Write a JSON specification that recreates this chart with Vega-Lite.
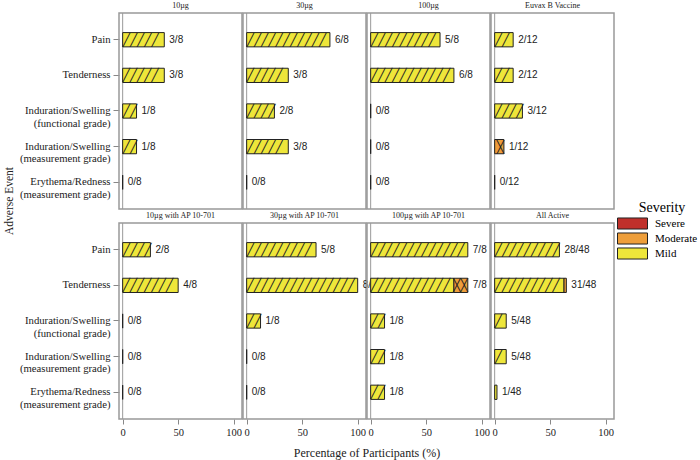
{
  "$schema": "https://vega.github.io/schema/vega-lite/v6.json",
  "padding": {"left": 4, "top": 1, "right": 3, "bottom": 2},
  "datasets": {
    "panels": [
      {"p": "10µg", "r": 1}, {"p": "30µg", "r": 1}, {"p": "100µg", "r": 1}, {"p": "Euvax B Vaccine", "r": 1},
      {"p": "10µg with AP 10-701", "r": 2}, {"p": "30µg with AP 10-701", "r": 2}, {"p": "100µg with AP 10-701", "r": 2}, {"p": "All Active", "r": 2}
    ],
    "bars": [
      {"p": "10µg", "e": "Pain", "s": "Mild", "v": 37.5},
      {"p": "10µg", "e": "Tenderness", "s": "Mild", "v": 37.5},
      {"p": "10µg", "e": "Induration/Swelling|(functional grade)", "s": "Mild", "v": 12.5},
      {"p": "10µg", "e": "Induration/Swelling|(measurement grade)", "s": "Mild", "v": 12.5},
      {"p": "10µg", "e": "Erythema/Redness|(measurement grade)", "s": "Mild", "v": 0},
      {"p": "30µg", "e": "Pain", "s": "Mild", "v": 75},
      {"p": "30µg", "e": "Tenderness", "s": "Mild", "v": 37.5},
      {"p": "30µg", "e": "Induration/Swelling|(functional grade)", "s": "Mild", "v": 25},
      {"p": "30µg", "e": "Induration/Swelling|(measurement grade)", "s": "Mild", "v": 37.5},
      {"p": "30µg", "e": "Erythema/Redness|(measurement grade)", "s": "Mild", "v": 0},
      {"p": "100µg", "e": "Pain", "s": "Mild", "v": 62.5},
      {"p": "100µg", "e": "Tenderness", "s": "Mild", "v": 75},
      {"p": "100µg", "e": "Induration/Swelling|(functional grade)", "s": "Mild", "v": 0},
      {"p": "100µg", "e": "Induration/Swelling|(measurement grade)", "s": "Mild", "v": 0},
      {"p": "100µg", "e": "Erythema/Redness|(measurement grade)", "s": "Mild", "v": 0},
      {"p": "Euvax B Vaccine", "e": "Pain", "s": "Mild", "v": 16.67},
      {"p": "Euvax B Vaccine", "e": "Tenderness", "s": "Mild", "v": 16.67},
      {"p": "Euvax B Vaccine", "e": "Induration/Swelling|(functional grade)", "s": "Mild", "v": 25},
      {"p": "Euvax B Vaccine", "e": "Induration/Swelling|(measurement grade)", "s": "Moderate", "v": 8.33},
      {"p": "Euvax B Vaccine", "e": "Erythema/Redness|(measurement grade)", "s": "Mild", "v": 0},
      {"p": "10µg with AP 10-701", "e": "Pain", "s": "Mild", "v": 25},
      {"p": "10µg with AP 10-701", "e": "Tenderness", "s": "Mild", "v": 50},
      {"p": "10µg with AP 10-701", "e": "Induration/Swelling|(functional grade)", "s": "Mild", "v": 0},
      {"p": "10µg with AP 10-701", "e": "Induration/Swelling|(measurement grade)", "s": "Mild", "v": 0},
      {"p": "10µg with AP 10-701", "e": "Erythema/Redness|(measurement grade)", "s": "Mild", "v": 0},
      {"p": "30µg with AP 10-701", "e": "Pain", "s": "Mild", "v": 62.5},
      {"p": "30µg with AP 10-701", "e": "Tenderness", "s": "Mild", "v": 100},
      {"p": "30µg with AP 10-701", "e": "Induration/Swelling|(functional grade)", "s": "Mild", "v": 12.5},
      {"p": "30µg with AP 10-701", "e": "Induration/Swelling|(measurement grade)", "s": "Mild", "v": 0},
      {"p": "30µg with AP 10-701", "e": "Erythema/Redness|(measurement grade)", "s": "Mild", "v": 0},
      {"p": "100µg with AP 10-701", "e": "Pain", "s": "Mild", "v": 87.5},
      {"p": "100µg with AP 10-701", "e": "Tenderness", "s": "Mild", "v": 75},
      {"p": "100µg with AP 10-701", "e": "Tenderness", "s": "Moderate", "v": 12.5},
      {"p": "100µg with AP 10-701", "e": "Induration/Swelling|(functional grade)", "s": "Mild", "v": 12.5},
      {"p": "100µg with AP 10-701", "e": "Induration/Swelling|(measurement grade)", "s": "Mild", "v": 12.5},
      {"p": "100µg with AP 10-701", "e": "Erythema/Redness|(measurement grade)", "s": "Mild", "v": 12.5},
      {"p": "All Active", "e": "Pain", "s": "Mild", "v": 58.33},
      {"p": "All Active", "e": "Tenderness", "s": "Mild", "v": 62.5},
      {"p": "All Active", "e": "Tenderness", "s": "Moderate", "v": 2.08},
      {"p": "All Active", "e": "Induration/Swelling|(functional grade)", "s": "Mild", "v": 10.42},
      {"p": "All Active", "e": "Induration/Swelling|(measurement grade)", "s": "Mild", "v": 10.42},
      {"p": "All Active", "e": "Erythema/Redness|(measurement grade)", "s": "Mild", "v": 2.08},
      {"p": "10µg", "e": "Pain", "t": 37.5, "l": "3/8"},
      {"p": "10µg", "e": "Tenderness", "t": 37.5, "l": "3/8"},
      {"p": "10µg", "e": "Induration/Swelling|(functional grade)", "t": 12.5, "l": "1/8"},
      {"p": "10µg", "e": "Induration/Swelling|(measurement grade)", "t": 12.5, "l": "1/8"},
      {"p": "10µg", "e": "Erythema/Redness|(measurement grade)", "t": 0, "l": "0/8"},
      {"p": "30µg", "e": "Pain", "t": 75, "l": "6/8"},
      {"p": "30µg", "e": "Tenderness", "t": 37.5, "l": "3/8"},
      {"p": "30µg", "e": "Induration/Swelling|(functional grade)", "t": 25, "l": "2/8"},
      {"p": "30µg", "e": "Induration/Swelling|(measurement grade)", "t": 37.5, "l": "3/8"},
      {"p": "30µg", "e": "Erythema/Redness|(measurement grade)", "t": 0, "l": "0/8"},
      {"p": "100µg", "e": "Pain", "t": 62.5, "l": "5/8"},
      {"p": "100µg", "e": "Tenderness", "t": 75, "l": "6/8"},
      {"p": "100µg", "e": "Induration/Swelling|(functional grade)", "t": 0, "l": "0/8"},
      {"p": "100µg", "e": "Induration/Swelling|(measurement grade)", "t": 0, "l": "0/8"},
      {"p": "100µg", "e": "Erythema/Redness|(measurement grade)", "t": 0, "l": "0/8"},
      {"p": "Euvax B Vaccine", "e": "Pain", "t": 16.67, "l": "2/12"},
      {"p": "Euvax B Vaccine", "e": "Tenderness", "t": 16.67, "l": "2/12"},
      {"p": "Euvax B Vaccine", "e": "Induration/Swelling|(functional grade)", "t": 25, "l": "3/12"},
      {"p": "Euvax B Vaccine", "e": "Induration/Swelling|(measurement grade)", "t": 8.33, "l": "1/12"},
      {"p": "Euvax B Vaccine", "e": "Erythema/Redness|(measurement grade)", "t": 0, "l": "0/12"},
      {"p": "10µg with AP 10-701", "e": "Pain", "t": 25, "l": "2/8"},
      {"p": "10µg with AP 10-701", "e": "Tenderness", "t": 50, "l": "4/8"},
      {"p": "10µg with AP 10-701", "e": "Induration/Swelling|(functional grade)", "t": 0, "l": "0/8"},
      {"p": "10µg with AP 10-701", "e": "Induration/Swelling|(measurement grade)", "t": 0, "l": "0/8"},
      {"p": "10µg with AP 10-701", "e": "Erythema/Redness|(measurement grade)", "t": 0, "l": "0/8"},
      {"p": "30µg with AP 10-701", "e": "Pain", "t": 62.5, "l": "5/8"},
      {"p": "30µg with AP 10-701", "e": "Tenderness", "t": 100, "l": "8/8"},
      {"p": "30µg with AP 10-701", "e": "Induration/Swelling|(functional grade)", "t": 12.5, "l": "1/8"},
      {"p": "30µg with AP 10-701", "e": "Induration/Swelling|(measurement grade)", "t": 0, "l": "0/8"},
      {"p": "30µg with AP 10-701", "e": "Erythema/Redness|(measurement grade)", "t": 0, "l": "0/8"},
      {"p": "100µg with AP 10-701", "e": "Pain", "t": 87.5, "l": "7/8"},
      {"p": "100µg with AP 10-701", "e": "Tenderness", "t": 87.5, "l": "7/8"},
      {"p": "100µg with AP 10-701", "e": "Induration/Swelling|(functional grade)", "t": 12.5, "l": "1/8"},
      {"p": "100µg with AP 10-701", "e": "Induration/Swelling|(measurement grade)", "t": 12.5, "l": "1/8"},
      {"p": "100µg with AP 10-701", "e": "Erythema/Redness|(measurement grade)", "t": 12.5, "l": "1/8"},
      {"p": "All Active", "e": "Pain", "t": 58.33, "l": "28/48"},
      {"p": "All Active", "e": "Tenderness", "t": 64.58, "l": "31/48"},
      {"p": "All Active", "e": "Induration/Swelling|(functional grade)", "t": 10.42, "l": "5/48"},
      {"p": "All Active", "e": "Induration/Swelling|(measurement grade)", "t": 10.42, "l": "5/48"},
      {"p": "All Active", "e": "Erythema/Redness|(measurement grade)", "t": 2.08, "l": "1/48"}
    ]
  },
  "config": {
    "font": "Liberation Serif",
    "view": {"stroke": "#999999", "strokeWidth": 1.5},
    "axis": {"labelFont": "Liberation Serif", "titleFont": "Liberation Serif", "titleFontWeight": "normal", "grid": false, "domain": false, "tickColor": "#888888", "labelColor": "#222222", "titleColor": "#222222"},
    "legend": {"labelFont": "Liberation Serif", "titleFont": "Liberation Serif", "titleFontWeight": "normal"}
  },
  "spacing": 3,
  "hconcat": [
    {
      "data": {"name": "panels"},
      "transform": [{"filter": "datum.p === '10µg'"}],
      "width": 12, "height": 400,
      "view": {"stroke": null},
      "mark": {"type": "text", "text": "Adverse Event", "angle": 270, "font": "Liberation Serif", "fontSize": 11.5, "color": "#222222", "baseline": "middle", "align": "center"},
      "encoding": {}
    },
    {
      "spacing": 0,
      "vconcat": [
        {
          "data": {"name": "panels"},
          "transform": [{"filter": "datum.r === 1"}],
          "facet": {"column": {"field": "p", "type": "nominal", "sort": ["10µg", "30µg", "100µg", "Euvax B Vaccine"], "header": null}},
          "spacing": 1,
          "bounds": "flush",
          "spec": {
            "width": 123, "height": 10,
            "mark": {"type": "text", "font": "Liberation Serif", "fontSize": 8, "color": "#222222", "baseline": "middle"},
            "encoding": {"text": {"field": "p", "type": "nominal"}}
          }
        },
        {
          "data": {"name": "bars"},
          "transform": [{"filter": {"field": "p", "oneOf": ["10µg", "30µg", "100µg", "Euvax B Vaccine"]}}],
          "facet": {"column": {"field": "p", "type": "nominal", "sort": ["10µg", "30µg", "100µg", "Euvax B Vaccine"], "header": null}},
          "spacing": 1,
          "bounds": "flush",
          "spec": {
            "width": 123, "height": 196,
            "encoding": {
              "y": {"field": "e", "type": "nominal", "sort": ["Pain", "Tenderness", "Induration/Swelling|(functional grade)", "Induration/Swelling|(measurement grade)", "Erythema/Redness|(measurement grade)"],
                    "scale": {"paddingInner": 0.6, "paddingOuter": 0.55},
                    "axis": {"title": null, "labelFontSize": 10.7, "labelExpr": "split(datum.value, '|')", "tickSize": 6, "labelPadding": 3}}
            },
            "layer": [
              {
                "transform": [{"filter": "isValid(datum.l) && datum.e === 'Pain'"}],
                "mark": {"type": "rule", "color": "#999999", "strokeWidth": 1},
                "encoding": {"x": {"datum": 0, "type": "quantitative", "scale": {"domain": [-3.3, 107.5], "nice": false, "zero": false}, "axis": null}, "y": null}
              },
              {
                "transform": [{"filter": "isValid(datum.s)"}],
                "mark": {"type": "bar", "stroke": "#222222", "strokeWidth": 1},
                "encoding": {
                  "x": {"field": "v", "type": "quantitative", "stack": "zero"},
                  "color": {"field": "s", "type": "nominal", "scale": {"domain": ["Severe", "Moderate", "Mild"], "range": ["#C0302B", "#EE9E3A", "#EEE63A"]},
                            "legend": {"title": "Severity", "titleFontSize": 14, "titleAnchor": "middle", "titlePadding": 2, "labelFontSize": 11, "labelOffset": 16, "rowPadding": -2, "symbolType": "M-2.5,-0.92L2.5,-0.92L2.5,0.92L-2.5,0.92Z", "symbolSize": 144, "symbolStrokeColor": "#222222", "symbolStrokeWidth": 1, "symbolOpacity": 1, "orient": "none", "legendX": 622, "legendY": 200}}
                }
              },
              {
                "transform": [{"filter": "datum.s === 'Mild' && datum.v > 3"}],
                "mark": {"type": "text", "text": "╱╱╱╱╱╱╱╱╱╱╱╱╱╱╱╱╱╱", "font": "DejaVu Sans Mono", "fontSize": 12, "align": "left", "baseline": "middle", "color": "#222222", "ellipsis": "\u200b", "limit": {"expr": "datum.v * 1.11 + 1.5"}},
                "encoding": {"x": {"datum": 0, "type": "quantitative"}}
              },
              {
                "transform": [{"filter": "isValid(datum.s)"}, {"joinaggregate": [{"op": "sum", "field": "v", "as": "tot"}], "groupby": ["p", "e"]}, {"filter": "datum.s === 'Moderate' && datum.v > 3"}],
                "mark": {"type": "text", "text": "╳╳╳╳╳╳╳╳╳╳╳╳╳╳╳╳╳╳", "font": "DejaVu Sans Mono", "fontSize": 12, "align": "right", "baseline": "middle", "color": "#222222", "ellipsis": "\u200b", "limit": {"expr": "datum.v * 1.11 + 1.5"}},
                "encoding": {"x": {"field": "tot", "type": "quantitative"}}
              },
              {
                "transform": [{"filter": "isValid(datum.l)"}],
                "mark": {"type": "text", "align": "left", "dx": 5, "font": "Liberation Sans", "fontSize": 10, "color": "#222222"},
                "encoding": {"x": {"field": "t", "type": "quantitative"}, "text": {"field": "l"}}
              }
            ]
          }
        },
        {
          "data": {"name": "panels"},
          "transform": [{"filter": "datum.r === 2"}],
          "facet": {"column": {"field": "p", "type": "nominal", "sort": ["10µg with AP 10-701", "30µg with AP 10-701", "100µg with AP 10-701", "All Active"], "header": null}},
          "spacing": 1,
          "bounds": "flush",
          "spec": {
            "width": 123, "height": 10,
            "mark": {"type": "text", "font": "Liberation Serif", "fontSize": 8, "color": "#222222", "baseline": "middle"},
            "encoding": {"text": {"field": "p", "type": "nominal"}}
          }
        },
        {
          "data": {"name": "bars"},
          "transform": [{"filter": {"field": "p", "oneOf": ["10µg with AP 10-701", "30µg with AP 10-701", "100µg with AP 10-701", "All Active"]}}],
          "facet": {"column": {"field": "p", "type": "nominal", "sort": ["10µg with AP 10-701", "30µg with AP 10-701", "100µg with AP 10-701", "All Active"],
                               "header": {"labels": false, "title": "Percentage of Participants (%)", "titleOrient": "bottom", "titleFont": "Liberation Serif", "titleFontSize": 12, "titleFontWeight": "normal", "titleColor": "#222222", "titlePadding": 0}}},
          "spacing": 1,
          "bounds": "flush",
          "spec": {
            "width": 123, "height": 196,
            "encoding": {
              "y": {"field": "e", "type": "nominal", "sort": ["Pain", "Tenderness", "Induration/Swelling|(functional grade)", "Induration/Swelling|(measurement grade)", "Erythema/Redness|(measurement grade)"],
                    "scale": {"paddingInner": 0.6, "paddingOuter": 0.55},
                    "axis": {"title": null, "labelFontSize": 10.7, "labelExpr": "split(datum.value, '|')", "tickSize": 6, "labelPadding": 3}}
            },
            "layer": [
              {
                "transform": [{"filter": "isValid(datum.l) && datum.e === 'Pain'"}],
                "mark": {"type": "rule", "color": "#999999", "strokeWidth": 1},
                "encoding": {"x": {"datum": 0, "type": "quantitative", "scale": {"domain": [-3.3, 107.5], "nice": false, "zero": false},
                                   "axis": {"values": [0, 50, 100], "title": null, "labelFontSize": 10.5, "tickSize": 5, "labelPadding": 3}}, "y": null}
              },
              {
                "transform": [{"filter": "isValid(datum.s)"}],
                "mark": {"type": "bar", "stroke": "#222222", "strokeWidth": 1},
                "encoding": {
                  "x": {"field": "v", "type": "quantitative", "stack": "zero"},
                  "color": {"field": "s", "type": "nominal"}
                }
              },
              {
                "transform": [{"filter": "datum.s === 'Mild' && datum.v > 3"}],
                "mark": {"type": "text", "text": "╱╱╱╱╱╱╱╱╱╱╱╱╱╱╱╱╱╱", "font": "DejaVu Sans Mono", "fontSize": 12, "align": "left", "baseline": "middle", "color": "#222222", "ellipsis": "\u200b", "limit": {"expr": "datum.v * 1.11 + 1.5"}},
                "encoding": {"x": {"datum": 0, "type": "quantitative"}}
              },
              {
                "transform": [{"filter": "isValid(datum.s)"}, {"joinaggregate": [{"op": "sum", "field": "v", "as": "tot"}], "groupby": ["p", "e"]}, {"filter": "datum.s === 'Moderate' && datum.v > 3"}],
                "mark": {"type": "text", "text": "╳╳╳╳╳╳╳╳╳╳╳╳╳╳╳╳╳╳", "font": "DejaVu Sans Mono", "fontSize": 12, "align": "right", "baseline": "middle", "color": "#222222", "ellipsis": "\u200b", "limit": {"expr": "datum.v * 1.11 + 1.5"}},
                "encoding": {"x": {"field": "tot", "type": "quantitative"}}
              },
              {
                "transform": [{"filter": "isValid(datum.l)"}],
                "mark": {"type": "text", "align": "left", "dx": 5, "font": "Liberation Sans", "fontSize": 10, "color": "#222222"},
                "encoding": {"x": {"field": "t", "type": "quantitative"}, "text": {"field": "l"}}
              }
            ]
          }
        }
      ]
    }
  ]
}
